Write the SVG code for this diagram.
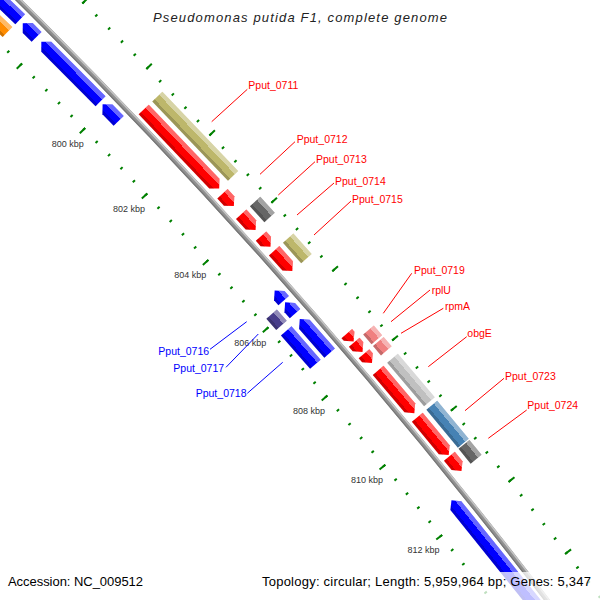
<svg xmlns="http://www.w3.org/2000/svg" width="600" height="600" viewBox="0 0 600 600">
<defs>
<style>
.r{fill:#f00}.b{fill:#00f}.ol{fill:#bdb76b}.dg{fill:#666}.lg{fill:#c0c0c0}.sb{fill:#4682b4}.pk{fill:#f08080}.pu{fill:#483d8b}.or{fill:#ff8c00}
.h1{fill:url(#s1)}.h2{fill:url(#s2)}.h3{fill:url(#s3)}.h4{fill:url(#s4)}
.lbl{font-family:"Liberation Sans",Arial,sans-serif;font-size:10.5px}
.fw{fill:#f00}.rv{fill:#00f}
.tk{font-family:"Liberation Sans",Arial,sans-serif;font-size:9px;fill:#333;text-anchor:middle}
.ft{font-family:"Liberation Sans",Arial,sans-serif;font-size:13px;fill:#000}
</style>
<linearGradient id="s1" gradientUnits="userSpaceOnUse" x1="5825.5" y1="0" x2="5839.5" y2="0">
<stop offset="0" stop-color="#000" stop-opacity="0.18"/>
<stop offset="0.22" stop-color="#000" stop-opacity="0.18"/>
<stop offset="0.22" stop-color="#000" stop-opacity="0"/>
<stop offset="0.68" stop-color="#fff" stop-opacity="0"/>
<stop offset="0.68" stop-color="#fff" stop-opacity="0.4"/>
<stop offset="1" stop-color="#fff" stop-opacity="0.4"/>
</linearGradient>
<linearGradient id="s2" href="#s1" x1="5844.3" x2="5858.3"/>
<linearGradient id="s3" href="#s1" x1="5799.5" x2="5813.5"/>
<linearGradient id="s4" href="#s1" x1="5781.5" x2="5795.5"/>
</defs>
<rect width="600" height="600" fill="#fff"/>
<g id="backbone" transform="translate(-4075 4137)" fill="none">
<circle r="5820" stroke="#909090" stroke-width="5"/>
<circle r="5821.6" stroke="#c4c4c4" stroke-width="1.6"/>
<circle r="5818.1" stroke="#777" stroke-width="1.2"/>
</g>
<g id="ticks" transform="translate(-4075 4137) rotate(-45.73)" fill="none" stroke="#008000">
<path d="M5776,0A5776,5776 0 0 1 5705.68,898.59" stroke-width="3" stroke-dasharray="2 16.0452" stroke-dashoffset="1"/>
<path d="M5773.75,0A5773.75,5773.75 0 0 1 5703.46,898.24" stroke-width="7.5" stroke-dasharray="2 88.191" stroke-dashoffset="1"/>
<path d="M5864,0A5864,5864 0 0 1 5792.61,912.28" stroke-width="3" stroke-dasharray="2 16.3201" stroke-dashoffset="1"/>
<path d="M5866.25,0A5866.25,5866.25 0 0 1 5794.83,912.63" stroke-width="7.5" stroke-dasharray="2 89.636" stroke-dashoffset="1"/>
</g>
<g id="tick-labels" class="tk">
<text x="67.7" y="147.2">800 kbp</text>
<text x="129.1" y="212.4">802 kbp</text>
<text x="190.3" y="278.4">804 kbp</text>
<text x="250.2" y="345.9">806 kbp</text>
<text x="309" y="413.7">808 kbp</text>
<text x="366.9" y="482.7">810 kbp</text>
<text x="423.5" y="552.9">812 kbp</text>
</g>
<g id="connectors" stroke-width="1" fill="none">
<g stroke="#f00">
<line x1="247.3" y1="89.3" x2="211.7" y2="121.7"/>
<line x1="295" y1="141.7" x2="260" y2="174.3"/>
<line x1="315" y1="161.7" x2="278.3" y2="195"/>
<line x1="334" y1="183" x2="297" y2="215"/>
<line x1="351" y1="201" x2="314" y2="235"/>
<line x1="411.7" y1="273.3" x2="383.3" y2="313.3"/>
<line x1="430" y1="290" x2="391" y2="321.7"/>
<line x1="443.3" y1="308.3" x2="401" y2="333.3"/>
<line x1="466.7" y1="336.7" x2="428.3" y2="366.7"/>
<line x1="504" y1="378.3" x2="465" y2="410.7"/>
<line x1="526.7" y1="410" x2="488.3" y2="438.3"/>
</g>
<g stroke="#00f">
<line x1="210" y1="349.3" x2="246.7" y2="321.7"/>
<line x1="226" y1="367.3" x2="258.3" y2="334"/>
<line x1="247.3" y1="393.3" x2="282.7" y2="362.3"/>
</g>
</g>
<g id="gene-Pput_0711">
<g transform="translate(-4075 4137) rotate(-43.6715)">
<polygon class="r" points="5825.5,0 5839.5,0 5839.5,102.33 5832.5,109.33 5825.5,102.33"/>
<polygon class="h1" points="5825.5,0 5839.5,0 5839.5,102.33 5832.5,109.33 5825.5,102.33"/>
<rect class="ol" x="5844.3" width="14" height="109.68"/><rect class="h2" x="5844.3" width="14" height="109.68"/>
</g>
<text class="lbl fw" x="248.3" y="89">Pput_0711</text>
</g>
<g id="gene-Pput_0712">
<g transform="translate(-4075 4137) rotate(-42.5393)">
<polygon class="r" points="5825.5,0 5839.5,0 5839.5,9.85 5832.5,16.85 5825.5,9.85"/>
<polygon class="h1" points="5825.5,0 5839.5,0 5839.5,9.85 5832.5,16.85 5825.5,9.85"/>
</g>
<text class="lbl fw" x="296.7" y="142.5">Pput_0712</text>
</g>
<g id="gene-Pput_0713">
<g transform="translate(-4075 4137) rotate(-42.26635)">
<polygon class="r" points="5825.5,0 5839.5,0 5839.5,14.41 5832.5,21.41 5825.5,14.41"/>
<polygon class="h1" points="5825.5,0 5839.5,0 5839.5,14.41 5832.5,21.41 5825.5,14.41"/>
<rect class="dg" x="5844.3" width="14" height="21.48"/><rect class="h2" x="5844.3" width="14" height="21.48"/>
</g>
<text class="lbl fw" x="316" y="162.5">Pput_0713</text>
</g>
<g id="gene-Pput_0714">
<g transform="translate(-4075 4137) rotate(-41.97548)">
<polygon class="r" points="5825.5,0 5839.5,0 5839.5,7.12 5832.5,14.12 5825.5,7.12"/>
<polygon class="h1" points="5825.5,0 5839.5,0 5839.5,7.12 5832.5,14.12 5825.5,7.12"/>
</g>
<text class="lbl fw" x="335" y="184.5">Pput_0714</text>
</g>
<g id="gene-Pput_0715">
<g transform="translate(-4075 4137) rotate(-41.78305)">
<polygon class="r" points="5825.5,0 5839.5,0 5839.5,20.33 5832.5,27.33 5825.5,20.33"/>
<polygon class="h1" points="5825.5,0 5839.5,0 5839.5,20.33 5832.5,27.33 5825.5,20.33"/>
<rect class="ol" x="5844.3" width="14" height="27.42"/><rect class="h2" x="5844.3" width="14" height="27.42"/>
</g>
<text class="lbl fw" x="352" y="202.5">Pput_0715</text>
</g>
<g id="gene-Pput_0719">
<g transform="translate(-4075 4137) rotate(-40.7001)">
<polygon class="r" points="5825.5,0 5839.5,0 5839.5,3.5 5832.5,10.5 5825.5,3.5"/>
<polygon class="h1" points="5825.5,0 5839.5,0 5839.5,3.5 5832.5,10.5 5825.5,3.5"/>
</g>
<text class="lbl fw" x="414" y="273.5">Pput_0719</text>
</g>
<g id="gene-rplU">
<g transform="translate(-4075 4137) rotate(-40.58823)">
<polygon class="r" points="5825.5,0 5839.5,0 5839.5,5.75 5832.5,12.75 5825.5,5.75"/>
<polygon class="h1" points="5825.5,0 5839.5,0 5839.5,5.75 5832.5,12.75 5825.5,5.75"/>
<rect class="pk" x="5844.3" width="14" height="12.8"/><rect class="h2" x="5844.3" width="14" height="12.8"/>
</g>
<text class="lbl fw" x="431.7" y="293.5">rplU</text>
</g>
<g id="gene-rpmA">
<g transform="translate(-4075 4137) rotate(-40.44055)">
<polygon class="r" points="5825.5,0 5839.5,0 5839.5,5.3 5832.5,12.3 5825.5,5.3"/>
<polygon class="h1" points="5825.5,0 5839.5,0 5839.5,5.3 5832.5,12.3 5825.5,5.3"/>
<rect class="pk" x="5844.3" width="14" height="12.34"/><rect class="h2" x="5844.3" width="14" height="12.34"/>
</g>
<text class="lbl fw" x="445" y="310">rpmA</text>
</g>
<g id="gene-obgE">
<g transform="translate(-4075 4137) rotate(-40.22575)">
<polygon class="r" points="5825.5,0 5839.5,0 5839.5,49.03 5832.5,56.03 5825.5,49.03"/>
<polygon class="h1" points="5825.5,0 5839.5,0 5839.5,49.03 5832.5,56.03 5825.5,49.03"/>
<rect class="lg" x="5844.3" width="14" height="57.13"/><rect class="h2" x="5844.3" width="14" height="57.13"/>
</g>
<text class="lbl fw" x="467.3" y="336.8">obgE</text>
</g>
<g id="gene-Pput_0723">
<g transform="translate(-4075 4137) rotate(-39.6261)">
<polygon class="r" points="5825.5,0 5839.5,0 5839.5,42.2 5832.5,49.2 5825.5,42.2"/>
<polygon class="h1" points="5825.5,0 5839.5,0 5839.5,42.2 5832.5,49.2 5825.5,42.2"/>
<rect class="sb" x="5844.3" width="14" height="49.36"/><rect class="h2" x="5844.3" width="14" height="49.36"/>
</g>
<text class="lbl fw" x="505" y="380">Pput_0723</text>
</g>
<g id="gene-Pput_0724">
<g transform="translate(-4075 4137) rotate(-39.129375)">
<polygon class="r" points="5825.5,0 5839.5,0 5839.5,12.13 5832.5,19.13 5825.5,12.13"/>
<polygon class="h1" points="5825.5,0 5839.5,0 5839.5,12.13 5832.5,19.13 5825.5,12.13"/>
<rect class="dg" x="5844.3" width="14" height="19.19"/><rect class="h2" x="5844.3" width="14" height="19.19"/>
</g>
<text class="lbl fw" x="527.3" y="409">Pput_0724</text>
</g>
<g id="gene-rev-1">
<g transform="translate(-4075 4137) rotate(-46.1775)">
<polygon class="b" points="5806.5,0 5813.5,7 5813.5,103.4 5799.5,103.4 5799.5,7"/>
<polygon class="h3" points="5806.5,0 5813.5,7 5813.5,103.4 5799.5,103.4 5799.5,7"/>
<rect class="or" x="5781.5" width="14" height="103.08"/><rect class="h4" x="5781.5" width="14" height="103.08"/>
</g>
</g>
<g id="gene-rev-2">
<g transform="translate(-4075 4137) rotate(-45.11245)">
<polygon class="b" points="5806.5,0 5813.5,7 5813.5,19.5 5799.5,19.5 5799.5,7"/>
<polygon class="h3" points="5806.5,0 5813.5,7 5813.5,19.5 5799.5,19.5 5799.5,7"/>
</g>
</g>
<g id="gene-rev-3">
<g transform="translate(-4075 4137) rotate(-44.8529)">
<polygon class="b" points="5806.5,0 5813.5,7 5813.5,83.9 5799.5,83.9 5799.5,7"/>
<polygon class="h3" points="5806.5,0 5813.5,7 5813.5,83.9 5799.5,83.9 5799.5,7"/>
</g>
</g>
<g id="gene-rev-4">
<g transform="translate(-4075 4137) rotate(-43.989225)">
<polygon class="b" points="5806.5,0 5813.5,7 5813.5,23.13 5799.5,23.13 5799.5,7"/>
<polygon class="h3" points="5806.5,0 5813.5,7 5813.5,23.13 5799.5,23.13 5799.5,7"/>
</g>
</g>
<g id="gene-Pput_0716">
<g transform="translate(-4075 4137) rotate(-41.4877)">
<polygon class="b" points="5806.5,0 5813.5,7 5813.5,13.61 5799.5,13.61 5799.5,7"/>
<polygon class="h3" points="5806.5,0 5813.5,7 5813.5,13.61 5799.5,13.61 5799.5,7"/>
</g>
<text class="lbl rv" x="158.3" y="355">Pput_0716</text>
</g>
<g id="gene-Pput_0717">
<g transform="translate(-4075 4137) rotate(-41.331075)">
<polygon class="b" points="5806.5,0 5813.5,7 5813.5,14.97 5799.5,14.97 5799.5,7"/>
<polygon class="h3" points="5806.5,0 5813.5,7 5813.5,14.97 5799.5,14.97 5799.5,7"/>
<rect class="pu" x="5781.5" width="14" height="14.92"/><rect class="h4" x="5781.5" width="14" height="14.92"/>
</g>
<text class="lbl rv" x="173.3" y="371.8">Pput_0717</text>
</g>
<g id="gene-Pput_0718">
<g transform="translate(-4075 4137) rotate(-41.1118)">
<polygon class="b" points="5806.5,0 5813.5,7 5813.5,45.35 5799.5,45.35 5799.5,7"/>
<polygon class="h3" points="5806.5,0 5813.5,7 5813.5,45.35 5799.5,45.35 5799.5,7"/>
<rect class="b" x="5781.5" width="14" height="44.31"/><rect class="h4" x="5781.5" width="14" height="44.31"/>
</g>
<text class="lbl rv" x="195.7" y="396.8">Pput_0718</text>
</g>
<g id="gene-rev-5">
<g transform="translate(-4075 4137) rotate(-38.780325)">
<polygon class="b" points="5806.5,0 5813.5,7 5813.5,226.8 5799.5,226.8 5799.5,7"/>
<polygon class="h3" points="5806.5,0 5813.5,7 5813.5,226.8 5799.5,226.8 5799.5,7"/>
</g>
</g>
<rect id="legend-band" x="257" y="572" width="343" height="28" fill="#fff" fill-opacity="0.75"/>
<text id="title" x="300" y="22" text-anchor="middle" textLength="294" lengthAdjust="spacing" style="font-family:'Liberation Sans',Arial,sans-serif;font-size:13px;font-style:italic;fill:#222">Pseudomonas putida F1, complete genome</text>
<text class="ft" x="8" y="586" textLength="135" lengthAdjust="spacing">Accession: NC_009512</text>
<text class="ft" x="262" y="586" textLength="329" lengthAdjust="spacing">Topology: circular; Length: 5,959,964 bp; Genes: 5,347</text>
</svg>
